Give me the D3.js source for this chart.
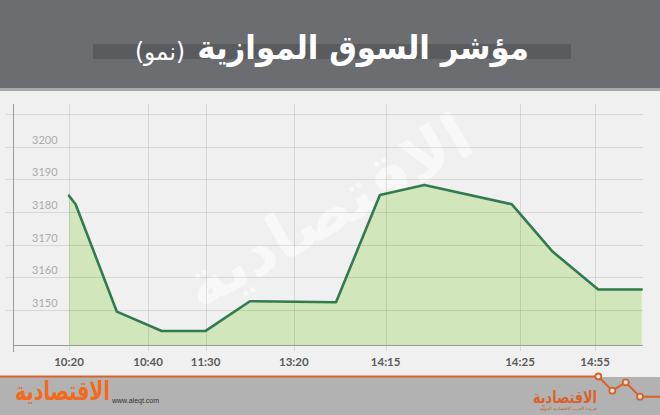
<!DOCTYPE html>
<html><head><meta charset="utf-8">
<script src="https://cdn.jsdelivr.net/npm/d3@7"></script>
<style>
html,body{margin:0;padding:0;background:#f0f0f0;}
svg{display:block;}
</style></head>
<body>
<svg id="c" width="660" height="415"></svg>
<script>
// ---- data ----
const title = "مؤشر السوق الموازية";
const subtitle = "(نمو)";
const pointPos = [0, 0.15, 1.09, 2.11, 3.11, 4.12, 6.08, 7.08, 8.09, 10.08, 11.01, 12.05, 13.04];
const values   = [3185.0, 3182.4, 3149.5, 3143.6, 3143.6, 3152.7, 3152.4, 3185.2, 3188.3, 3182.4, 3167.9, 3156.3, 3156.3];
const tickPos    = [0, 1.80, 3.11, 5.12, 7.21, 10.27, 11.98];
const tickLabels = ["10:20", "10:40", "11:30", "13:20", "14:15", "14:25", "14:55"];
const yTicks = [3150, 3160, 3170, 3180, 3190, 3200];
const yGrid  = [3150, 3160, 3170, 3180, 3190, 3200, 3210];

const svg = d3.select("#c");
const W = 660, H = 415;

// background
svg.append("rect").attr("width", W).attr("height", H).attr("fill", "#f0f0f0");

// header
svg.append("rect").attr("x",0).attr("y",0).attr("width",W).attr("height",88).attr("fill","#6c6d71");
svg.append("rect").attr("x",0).attr("y",88).attr("width",W).attr("height",3).attr("fill","#a9a9ab");
svg.append("rect").attr("x",93).attr("y",44).attr("width",478).attr("height",15).attr("fill","#5a5b5e");

function fitText(sel, targetW, anchorX, baseY){
  const bw = sel.node().getComputedTextLength();
  const sx = targetW / bw;
  sel.attr("x", 0).attr("y", 0)
     .attr("transform", `translate(${anchorX},${baseY}) scale(${sx},1)`);
}
const tMain = svg.append("text")
  .attr("text-anchor","end").attr("fill","#fff")
  .attr("font-family","'DejaVu Sans', sans-serif").attr("font-weight","bold")
  .attr("font-size", 33).text(title);
fitText(tMain, 332, 529, 59);
const tSub = svg.append("text")
  .attr("text-anchor","end").attr("fill","#fff")
  .attr("font-family","'DejaVu Sans', sans-serif")
  .attr("font-size", 24).text(subtitle);
fitText(tSub, 50, 185, 60);

// scales
const x = d3.scaleLinear().domain([0, 13.04]).range([69, 641.7]);
const y = d3.scaleLinear().domain([3139.3, 3210]).range([345, 114]);

// watermark
svg.append("text").attr("transform","translate(330,215) rotate(-30)")
  .attr("text-anchor","middle").attr("dominant-baseline","middle")
  .attr("fill","#ffffff").attr("opacity",0.55)
  .attr("font-family","'DejaVu Sans', sans-serif").attr("font-weight","bold")
  .attr("font-size",64).text("الاقتصادية");

// area
const data = pointPos.map((p,i)=>({p, v: values[i]}));
svg.append("path").datum(data)
  .attr("d", d3.area().x(d=>x(d.p)).y0(y(3139.3)).y1(d=>y(d.v)))
  .attr("fill","#cfe5b6").attr("opacity",0.92);

// gridlines
const grid = svg.append("g").attr("stroke","#000").attr("stroke-opacity",0.1).attr("stroke-width",1);
yGrid.forEach(v=>{
  grid.append("line").attr("x1",6).attr("x2",643)
    .attr("y1",Math.round(y(v))+0.5).attr("y2",Math.round(y(v))+0.5);
});
tickPos.forEach(p=>{
  grid.append("line").attr("x1",Math.round(x(p))+0.5).attr("x2",Math.round(x(p))+0.5)
    .attr("y1",104).attr("y2",351);
});

// axes
svg.append("line").attr("x1",13.5).attr("x2",13.5).attr("y1",104).attr("y2",352)
  .attr("stroke","#9a9a9a").attr("stroke-width",1);
svg.append("line").attr("x1",13).attr("x2",643).attr("y1",345.5).attr("y2",345.5)
  .attr("stroke","#9a9a9a").attr("stroke-width",1);

// line
svg.append("path").datum(data)
  .attr("d", d3.line().x(d=>x(d.p)).y(d=>y(d.v)))
  .attr("fill","none").attr("stroke","#327a50").attr("stroke-width",2.6)
  .attr("stroke-linejoin","round").attr("stroke-linecap","round");

// y labels
svg.append("g").selectAll("text").data(yTicks).join("text")
  .attr("x",32).attr("y",d=>y(d)-3)
  .attr("fill","#ababab").attr("font-family","Lato, sans-serif")
  .attr("font-size",11).text(d=>d);

// x labels
svg.append("g").selectAll("text").data(tickPos).join("text")
  .attr("x",d=>x(d)).attr("y",366).attr("text-anchor","middle")
  .attr("fill","#5a5a5a").attr("font-family","Lato, sans-serif").attr("font-weight","bold")
  .attr("font-size",11.5).text((d,i)=>tickLabels[i]);

// footer
svg.append("rect").attr("x",0).attr("y",377).attr("width",W).attr("height",38).attr("fill","#b2b2b2");
const orange = "#d9622b";
const zig = [[0,376.5],[598.3,376.5],[612.3,390.7],[625.7,382.3],[640,396.7],[660,396.7]];
svg.append("path").attr("d", d3.line()(zig)).attr("fill","none")
  .attr("stroke",orange).attr("stroke-width",2);
svg.append("g").selectAll("circle").data(zig.slice(1,5)).join("circle")
  .attr("cx",d=>d[0]).attr("cy",d=>d[1]).attr("r",3)
  .attr("fill","#f4e4da").attr("stroke",orange).attr("stroke-width",1.8);

svg.append("text").attr("x",112).attr("y",403).attr("fill","#333")
  .attr("font-family","Arial, 'Liberation Sans', sans-serif").attr("font-size",7)
  .text("www.aleqt.com");
const logoL = svg.append("text").attr("text-anchor","end")
  .attr("fill","#f26a1b").attr("font-family","'DejaVu Sans', sans-serif").attr("font-weight","bold")
  .attr("font-size",26).text("الاقتصادية");
fitText(logoL, 95, 110, 400);

const logoR = svg.append("text").attr("text-anchor","end")
  .attr("fill","#d9622b").attr("font-family","'DejaVu Sans', sans-serif").attr("font-weight","bold")
  .attr("font-size",17).text("الاقتصادية");
fitText(logoR, 64, 597, 403);
svg.append("text").attr("x",597).attr("y",410).attr("text-anchor","end")
  .attr("fill","#c0602d").attr("font-family","'DejaVu Sans', sans-serif")
  .attr("font-size",4.5).text("جريدة العرب الاقتصادية الدولية");
</script>
</body></html>
